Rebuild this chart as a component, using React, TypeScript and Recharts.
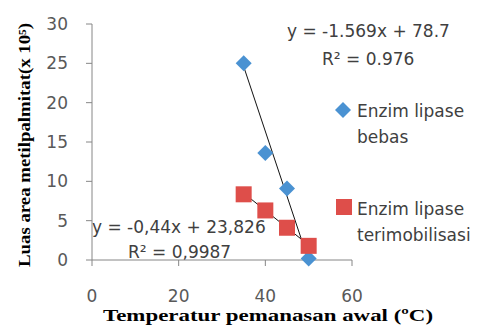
import { ScatterChart, Scatter, XAxis, YAxis, ReferenceLine } from 'recharts';

// temperatures (ºC)
const temps = [35, 40, 45, 50];
// luas area metilpalmitat (x 10^5)
const bebas = [25.0, 13.6, 9.1, 0.2];
const terimobilisasi = [8.35, 6.3, 4.1, 1.8];

const seriesNames = ['Enzim lipase bebas', 'Enzim lipase terimobilisasi'];
const seriesColors = ['#4A92D2', '#DE4E4A'];

// trendline end points
const bebasTrend = [
	{ x: 35, y: 24.6 },
	{ x: 49.8, y: 0.2 },
];
const terimobilisasiTrend = [
	{ x: 35, y: 8.5 },
	{ x: 50, y: 1.9 },
];

const bebasEq = ['y = -1.569x + 78.7', 'R² = 0.976'];
const terimobilisasiEq = ['y = -0,44x + 23,826', 'R² = 0,9987'];

const xTicks = [0, 20, 40, 60];
const yTicks = [0, 5, 10, 15, 20, 25, 30];

const bebasData = temps.map((t, i) => ({ x: t, y: bebas[i] }));
const terimobilisasiData = temps.map((t, i) => ({ x: t, y: terimobilisasi[i] }));

const sans = 'DejaVu Sans';
const serif = 'Liberation Serif';

const Diamond = (props: any) => {
	const { cx, cy, r = 8, fill } = props;
	return (
		<polygon
			points={`${cx},${cy - r} ${cx + r},${cy} ${cx},${cy + r} ${cx - r},${cy}`}
			fill={fill}
		/>
	);
};

const Square = (props: any) => {
	const { cx, cy, s = 16, fill } = props;
	return <rect x={cx - s / 2} y={cy - s / 2} width={s} height={s} fill={fill} />;
};

export default function App() {
	return (
		<div style={{ position: 'absolute', left: 0, top: 0 }}>
			<ScatterChart
				width={481}
				height={330}
				margin={{ top: 24, right: 129, bottom: 0, left: 0 }}
			>
				<XAxis
					type="number"
					dataKey="x"
					domain={[0, 60]}
					ticks={xTicks}
					height={70}
					tickSize={6}
					tickMargin={24}
					stroke="#868686"
					tick={{ fill: '#595959', fontSize: 17, fontFamily: sans }}
				/>
				<YAxis
					type="number"
					dataKey="y"
					domain={[0, 30]}
					ticks={yTicks}
					width={92}
					tickSize={6}
					tickMargin={18}
					stroke="#868686"
					tick={{ fill: '#595959', fontSize: 17, fontFamily: sans }}
				/>
				<Scatter
					name={seriesNames[0]}
					data={bebasData}
					fill={seriesColors[0]}
					shape={<Diamond />}
					isAnimationActive={false}
				/>
				<Scatter
					name={seriesNames[1]}
					data={terimobilisasiData}
					fill={seriesColors[1]}
					shape={<Square />}
					isAnimationActive={false}
				/>
				<ReferenceLine
					segment={terimobilisasiTrend}
					stroke="#111"
					strokeWidth={1}
				/>
				<ReferenceLine segment={bebasTrend} stroke="#111" strokeWidth={1} />

				{/* trendline equations */}
				<g fontFamily={sans} fontSize={17} fill="#404040">
					<text x={287} y={37}>{bebasEq[0]}</text>
					<text x={322} y={65}>{bebasEq[1]}</text>
					<text x={92} y={233}>{terimobilisasiEq[0]}</text>
					<text x={128} y={258}>{terimobilisasiEq[1]}</text>
				</g>

				{/* legend */}
				<g fontFamily={sans} fontSize={17} fill="#404040">
					<Diamond cx={343} cy={110} r={8} fill={seriesColors[0]} />
					<text x={357} y={117}>Enzim lipase</text>
					<text x={357} y={143}>bebas</text>
					<Square cx={344} cy={207} s={16} fill={seriesColors[1]} />
					<text x={357} y={215}>Enzim lipase</text>
					<text x={357} y={241}>terimobilisasi</text>
				</g>

				{/* axis titles */}
				<text
					x={268}
					y={321}
					textAnchor="middle"
					fontFamily={serif}
					fontWeight="bold"
					fontSize={17}
					textLength={330}
					lengthAdjust="spacingAndGlyphs"
					fill="#000"
				>
					Temperatur pemanasan awal (ºC)
				</text>
				<text
					x={0}
					y={0}
					transform="translate(30,145) rotate(-90)"
					textAnchor="middle"
					fontFamily={serif}
					fontWeight="bold"
					fontSize={16}
					textLength={244}
					lengthAdjust="spacingAndGlyphs"
					fill="#000"
				>
					Luas area metilpalmitat(x 10⁵)
				</text>
			</ScatterChart>
		</div>
	);
}
